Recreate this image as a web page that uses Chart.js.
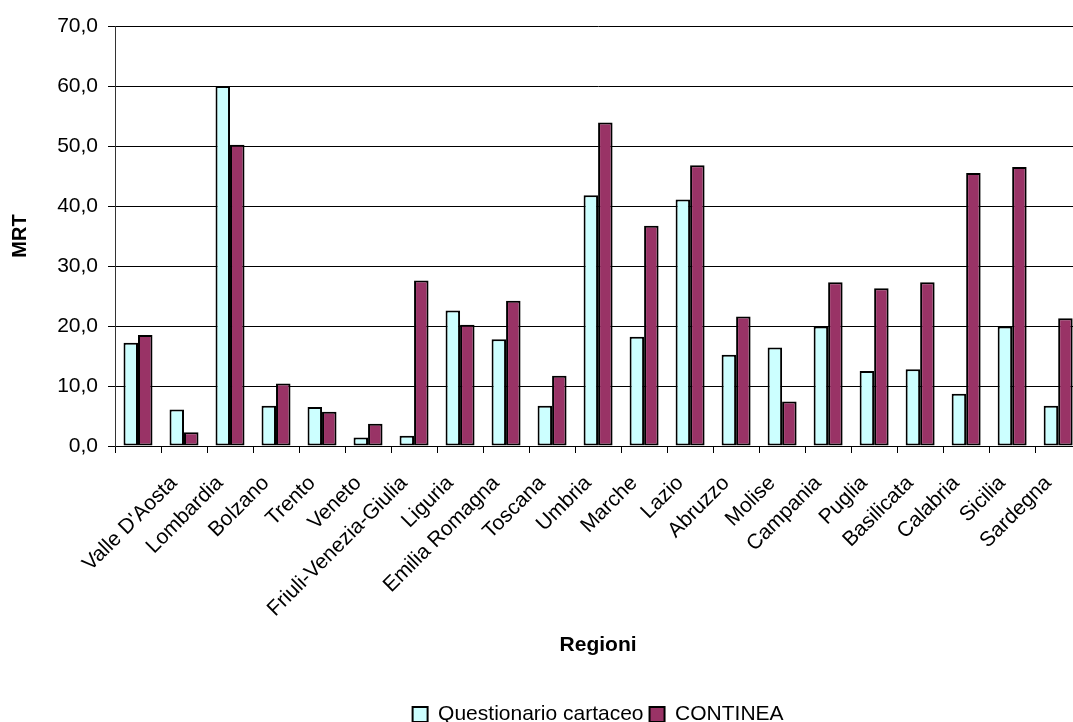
<!DOCTYPE html>
<html>
<head>
<meta charset="utf-8">
<script src="https://cdn.jsdelivr.net/npm/chart.js@4/dist/chart.umd.min.js"></script>
<style>
  html, body { margin: 0; padding: 0; background: #fff; overflow: hidden; }
  #wrap { width: 1094px; height: 740px; }
</style>
</head>
<body>
<div id="wrap"><canvas id="mrtChart"></canvas></div>
<script>
const regioni = ["Valle D'Aosta", "Lombardia", "Bolzano", "Trento", "Veneto", "Friuli-Venezia-Giulia",
  "Liguria", "Emilia Romagna", "Toscana", "Umbria", "Marche", "Lazio", "Abruzzo", "Molise",
  "Campania", "Puglia", "Basilicata", "Calabria", "Sicilia", "Sardegna"];

// the first group has no readable label of its own
const categorie = [""].concat(regioni);

const cartaceo = [17.2, 6.1, 60.0, 6.7, 6.5, 1.4, 1.7, 22.6, 17.8, 6.7, 41.8,
  18.2, 41.1, 15.2, 16.4, 19.9, 12.5, 12.8, 8.7, 19.9, 6.7];
const continea = [18.5, 2.3, 50.2, 10.4, 5.7, 3.7, 27.6, 20.2, 24.2, 11.7, 53.9,
  36.7, 46.8, 21.6, 7.4, 27.3, 26.3, 27.3, 45.5, 46.5, 21.3];

const yMin = 0, yMax = 70, yStep = 10;

Chart.defaults.font.family = "'Liberation Sans', Arial, sans-serif";
Chart.defaults.color = "#000";

const mrtChart = new Chart(document.getElementById("mrtChart"), {
  type: "bar",
  data: {
    labels: categorie,
    datasets: [
      {
        label: "Questionario cartaceo",
        data: cartaceo,
        backgroundColor: "#CCFFFF",
        borderColor: "#000",
        borderWidth: 2,
        borderSkipped: false
      },
      {
        label: "CONTINEA",
        data: continea,
        backgroundColor: "#993366",
        borderColor: "#000",
        borderWidth: 2,
        borderSkipped: false
      }
    ]
  },
  options: {
    responsive: true,
    maintainAspectRatio: false,
    animation: false,
    categoryPercentage: 0.63,
    barPercentage: 1.0,
    layout: { padding: { top: 26, right: 1, bottom: 5, left: 0 } },
    plugins: {
      tooltip: { enabled: false },
      legend: {
        position: "bottom",
        fullSize: false,
        labels: {
          boxWidth: 15,
          boxHeight: 15,
          padding: 6,
          font: { size: 21 },
          color: "#000"
        }
      }
    },
    scales: {
      x: {
        grid: { drawOnChartArea: false, drawTicks: true, tickLength: 7, color: "#000", offset: true },
        border: { color: "#000", width: 1 },
        ticks: {
          maxRotation: 45, minRotation: 45, autoSkip: false,
          font: { size: 21 }, color: "#000", padding: 18, labelOffset: -10
        },
        title: { display: true, text: "Regioni", font: { size: 21, weight: "bold" }, color: "#000", padding: { top: 4, bottom: 40 } },
        afterFit: (scale) => { scale.height = 252; }
      },
      y: {
        min: yMin,
        max: yMax,
        grid: { color: "#000", lineWidth: 1, tickLength: 7 },
        border: { color: "#333", width: 1 },
        ticks: {
          stepSize: yStep,
          padding: 10,
          font: { size: 21 },
          color: "#000",
          callback: (v) => v.toFixed(1).replace(".", ",")
        },
        title: { display: true, text: "MRT", font: { size: 20, weight: "bold" }, color: "#000", padding: { top: 8, bottom: 4 } },
        afterFit: (scale) => { scale.width = 115; }
      }
    }
  }
});
</script>
</body>
</html>
